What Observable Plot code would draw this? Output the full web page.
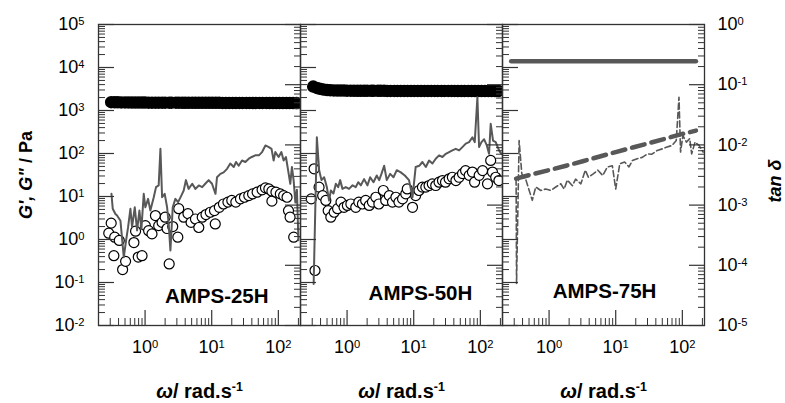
<!DOCTYPE html>
<html><head><meta charset="utf-8">
<script src="https://cdn.jsdelivr.net/npm/d3@7"></script>
<script src="https://cdn.jsdelivr.net/npm/@observablehq/plot@0.6"></script>
<style>
body{margin:0;background:#fff;}
#chart{width:785px;height:403px;}
</style></head><body><div id="chart"></div>
<script>
const panelKeys = ["AMPS-25H", "AMPS-50H", "AMPS-75H"];

// G' (filled circles) for AMPS-25H and AMPS-50H, rad/s and Pa
const omegaGp = [0.31,0.35,0.39,0.44,0.5,0.56,0.63,0.71,0.8,0.9,1.0,1.13,1.27,1.43,1.6,1.8,2.0,2.3,2.5,2.9,3.2,3.6,4.0,4.5,5.1,5.7,6.4,7.2,8.1,9.1,10.2,11.5,12.9,14.5,16.3,18.3,20.6,23,26,29,33,37,41,46,52,58,66,74,83,93,104,117,132,148,166,186];
const Gp25 = [1560,1550,1550,1540,1540,1540,1530,1530,1530,1530,1530,1520,1520,1520,1520,1520,1520,1520,1520,1520,1520,1510,1510,1510,1510,1510,1510,1510,1510,1510,1510,1510,1510,1500,1500,1500,1500,1500,1500,1500,1500,1500,1500,1500,1500,1500,1500,1490,1490,1490,1490,1490,1490,1490,1490,1490];
const Gp50 = [3600,3350,3200,3080,3000,2960,2930,2910,2900,2900,2890,2890,2880,2880,2880,2880,2870,2870,2870,2870,2870,2870,2860,2860,2860,2860,2860,2860,2860,2860,2850,2850,2850,2850,2850,2850,2850,2850,2850,2850,2850,2850,2850,2840,2840,2840,2840,2840,2840,2840,2840,2840,2840,2840,2840,2840];

// G'' (open circles)
const w25_Gpp = [0.31,0.285,0.35,0.34,0.41,0.46,0.51,0.68,0.72,0.79,0.9,1.01,1.13,1.27,1.43,1.6,1.8,2.0,2.14,2.3,2.6,3.1,3.2,3.8,4.4,4.9,5.7,6.4,7.2,8.2,9.5,11.3,11,13,15,17.5,20,23,27,31,36,41,48,57,64,72,80,80,92,107,120,135,142,150,170];
const Gpp25 = [2.4,1.4,1.13,0.42,0.95,0.2,0.31,0.85,1.56,0.39,0.42,2.1,1.6,1.35,3.6,2.1,2.5,3.3,1.8,0.27,2.0,1.13,5.2,3.3,4.0,2.5,3.0,1.9,3.3,3.8,4.3,2.3,4.7,5.6,6.7,7.4,8.1,7.4,8.8,9.6,10.5,11.5,12.6,14.3,15.9,15,13.3,7.8,12.6,11.5,10.5,9.6,4.7,3.3,1.13];
const w50_Gpp = [0.32,0.33,0.29,0.38,0.43,0.48,0.52,0.57,0.64,0.72,0.81,0.9,1.01,1.14,1.35,1.5,1.7,1.9,2.15,2.4,2.7,3.0,3.5,3.8,4.3,4.8,5.4,6.0,6.8,7.6,8.0,9.6,10.7,12,13.5,15.2,17,19,21.4,24,27,30,34,38,43,48,54,60,68,76,82,96,108,128,143,152,170,190];
const Gpp50 = [44,0.19,8.8,16.5,10.5,8.1,4.7,3.3,4.3,5.2,7.4,5.6,6.2,6.7,5.6,7.4,6.7,8.1,6.2,7.4,9.6,6.7,13.8,8.1,10.5,7.4,9.6,7.4,8.8,11.5,15,5.6,10.5,13.8,16.5,16.5,18,19.7,18,21.5,23.5,21.5,25.8,28,23.5,28,34,40,31,37,21.5,31,40,19.7,69,37,28,23.5];

// tan δ (grey line, right axis)
const w25_tan = [0.313,0.327,0.359,0.38,0.427,0.479,0.519,0.556,0.603,0.638,0.70,0.759,0.822,0.881,0.955,1.01,1.11,1.2,1.35,1.46,1.6,1.7,1.8,1.97,2.14,2.26,2.4,2.6,2.85,3.13,3.5,3.8,4.1,4.5,5.1,5.7,6.4,7.2,8.0,9.0,10.1,11.4,12,13.5,15.1,17,19,21.4,23.2,25.4,28.5,32,36,40,45,51,57,64,72,79,85,90,101,111,120,130,140,151,160,170,180,190,200];
const tan25 = [0.00154,0.00087,0.00071,0.00067,0.00055,0.000136,0.00026,0.00043,0.00087,0.00043,0.00092,0.00038,0.00081,0.0004,0.00154,0.00092,0.00127,0.00081,0.00135,0.00199,0.00212,0.0086,0.00135,0.00154,0.00092,0.00049,0.000176,0.00092,0.00127,0.00112,0.00144,0.00175,0.0026,0.00186,0.00226,0.00186,0.00212,0.00199,0.00226,0.0026,0.00226,0.00154,0.0029,0.0033,0.0035,0.004,0.0049,0.0043,0.0052,0.0045,0.0055,0.0052,0.0059,0.0063,0.0067,0.0067,0.0076,0.0098,0.0092,0.0086,0.0055,0.0076,0.0063,0.0076,0.0055,0.0063,0.0038,0.00226,0.0043,0.0025,0.0011,0.0018,0.00026];
const w50_tan = [0.315,0.352,0.381,0.413,0.453,0.497,0.538,0.570,0.625,0.678,0.735,0.787,0.853,0.957,1.07,1.21,1.35,1.47,1.61,1.80,2.02,2.22,2.49,2.79,3.03,3.28,3.6,3.94,4.43,4.97,5.57,6.4,7.35,8.5,9.6,10.7,12.1,13.5,15.2,17,19.1,21.4,24,27,30.3,34,38,42.8,48,53.8,60.4,67.8,76,82.4,90.3,95.7,104,114,125,135,143,155,170,191,207];
const tan50 = [0.000049,0.0134,0.0038,0.0026,0.0029,0.00199,0.00119,0.00175,0.00156,0.00226,0.00199,0.0026,0.00186,0.00199,0.00186,0.00213,0.00199,0.0024,0.00213,0.0027,0.00213,0.0029,0.0024,0.0031,0.0026,0.0033,0.0045,0.0026,0.0033,0.0029,0.0038,0.0035,0.0031,0.0026,0.00135,0.0043,0.0045,0.0052,0.0043,0.0055,0.0049,0.0059,0.0067,0.0063,0.0071,0.0076,0.0081,0.0086,0.0081,0.0092,0.0105,0.0111,0.0134,0.0111,0.062,0.0092,0.0111,0.0124,0.0098,0.0071,0.0224,0.0118,0.0111,0.0081,0.0071];

// AMPS-75H: G' (thick solid), G'' (thick dashed), tan δ (thin dashed)
const w75_Gp = [0.27,0.5,1,3,10,30,100,160];
const Gp75 = [14000,14000,14000,14000,14000,14000,14000,14000];
const w75_Gpp = [0.32,0.56,1.0,1.8,3.2,5.6,10,18,32,56,100,160];
const Gpp75 = [26,33,41,52,66,84,108,138,175,222,285,340];
const w75_tan = [0.32,0.325,0.355,0.39,0.45,0.56,0.63,0.75,0.89,1.06,1.26,1.5,1.68,1.88,2.24,2.5,3.0,3.5,3.9,4.6,5.4,6.4,7.5,8.9,10,11.5,13.6,15.8,17.8,21,25,30,35,42,50,59,70,81,89,94,102,115,129,138,155,178,205];
const tan75 = [0.0027,0.00005,0.0118,0.0033,0.0026,0.0012,0.002,0.00175,0.00185,0.00175,0.002,0.00226,0.00185,0.0026,0.0021,0.0027,0.00226,0.0038,0.0029,0.0033,0.0038,0.0031,0.0043,0.0045,0.00185,0.00485,0.0052,0.0043,0.0055,0.0059,0.0062,0.0071,0.007,0.0081,0.0086,0.0092,0.0098,0.0118,0.062,0.0076,0.0143,0.0111,0.0127,0.0071,0.0111,0.0098,0.0076];

// tick values
const xTickValues = [1, 10, 100];
const gTickValues = [1e-2, 1e-1, 1e0, 1e1, 1e2, 1e3, 1e4, 1e5];
const tanTickValues = [1e-5, 1e-4, 1e-3, 1e-2, 1e-1, 1e0];

// helpers
const rows = (p, ws, vs) => ws.map((w, i) => ({p, w, v: vs[i]}));
// tan δ axis (1e-5..1e0) shares the frame with the G axis (1e-2..1e5)
const tanToG = t => Math.pow(10, -2 + (Math.log10(t) + 5) * 7 / 5);
const minorsOf = majors => majors.slice(0, -1).flatMap(m => [2,3,4,5,6,7,8,9].map(k => k * m));
const xMinor = minorsOf([0.1, 1, 10, 100, 1000]).filter(v => v > 0.25 && v < 210);
const gMinor = minorsOf(gTickValues);
const tanMajorG = tanTickValues.map(tanToG);
const tanMinorG = minorsOf(tanTickValues).map(tanToG);
const sciFmt = v => "10^" + Math.round(Math.log10(v));
const tanFmt = t => "10^" + Math.round(Math.log10(t));

const gpData = [...rows(panelKeys[0], omegaGp, Gp25), ...rows(panelKeys[1], omegaGp, Gp50)];
const gppData = [...rows(panelKeys[0], w25_Gpp, Gpp25), ...rows(panelKeys[1], w50_Gpp, Gpp50)];
const tanData = [...rows(panelKeys[0], w25_tan, tan25), ...rows(panelKeys[1], w50_tan, tan50)];
const gp75 = rows(panelKeys[2], w75_Gp, Gp75);
const gpp75 = rows(panelKeys[2], w75_Gpp, Gpp75);
const tanD75 = rows(panelKeys[2], w75_tan, tan75);

const axisColor = "#333";
const grey = "#585858";

const chart = Plot.plot({
  width: 785, height: 403,
  marginLeft: 97, marginRight: 81, marginTop: 24, marginBottom: 78,
  style: {fontFamily: "'Liberation Sans', Arial, sans-serif", fontSize: "18px", color: "#000", background: "#fff", overflow: "visible"},
  fx: {domain: panelKeys, padding: 0, axis: null, label: null},
  x: {type: "log", domain: [0.2, 215]},
  y: {type: "log", domain: [1e-2, 1e5]},
  marks: [
    // data
    Plot.dot(gpData, {fx: "p", x: "w", y: "v", r: 5.5, fill: "#000", stroke: "#000", clip: true}),
    Plot.dot(gppData, {fx: "p", x: "w", y: "v", r: 5, fill: "#fff", stroke: "#000", strokeWidth: 1.2, clip: true}),
    Plot.line(tanData, {fx: "p", x: "w", y: d => tanToG(d.v), stroke: grey, strokeWidth: 2, clip: true}),
    Plot.line(gp75, {fx: "p", x: "w", y: "v", stroke: grey, strokeWidth: 4.5, strokeLinecap: "round"}),
    Plot.line(gpp75, {fx: "p", x: "w", y: "v", stroke: grey, strokeWidth: 4.5, strokeDasharray: "13,7"}),
    Plot.line(tanD75, {fx: "p", x: "w", y: d => tanToG(d.v), stroke: grey, strokeWidth: 1.6, strokeDasharray: "6,3", clip: true}),
    // frame and inward ticks
    Plot.frame({stroke: axisColor, strokeWidth: 1.3}),
    Plot.axisX(xTickValues, {tickSize: -15, fill: "none", stroke: axisColor, strokeWidth: 1.2, label: null}),
    Plot.axisX(xMinor, {tickSize: -7, fill: "none", stroke: axisColor, strokeWidth: 1, label: null}),
    Plot.axisY(gTickValues, {anchor: "left", tickSize: -16, facetAnchor: null, fill: "none", stroke: axisColor, strokeWidth: 1.2, label: null}),
    Plot.axisY(gMinor, {anchor: "left", tickSize: -7, facetAnchor: null, fill: "none", stroke: axisColor, strokeWidth: 1, label: null}),
    Plot.axisY(tanMajorG, {anchor: "right", tickSize: -16, facetAnchor: null, fill: "none", stroke: axisColor, strokeWidth: 1.2, label: null}),
    Plot.axisY(tanMinorG, {anchor: "right", tickSize: -7, facetAnchor: null, fill: "none", stroke: axisColor, strokeWidth: 1, label: null}),
    // tick labels
    Plot.axisX(xTickValues, {tickSize: 0, tickPadding: 15, tickFormat: sciFmt, label: null, fontSize: 18}),
    Plot.axisY(gTickValues, {anchor: "left", tickSize: 0, tickPadding: 14, tickFormat: sciFmt, label: null, fontSize: 18}),
    Plot.text(tanTickValues, {fx: () => panelKeys[2], y: t => tanToG(t), frameAnchor: "right", dx: 13, textAnchor: "start", text: tanFmt, fontSize: 18}),
    // panel names
    Plot.text(panelKeys, {fx: d => d, x: [11.9, 12.6, 6.8], y: [0.048, 0.057, 0.063], text: d => d, fontWeight: "bold", fontSize: 20.5}),
    // axis titles
    Plot.text(panelKeys, {fx: d => d, frameAnchor: "bottom", dy: 72, lineAnchor: "bottom", text: () => "ω/ rad.s^-1", fontWeight: "bold", fontSize: 20}),
    Plot.text(["G', G\" / Pa"], {fx: () => panelKeys[0], frameAnchor: "left", dx: -72, rotate: -90, textAnchor: "middle", text: d => d, fontWeight: "bold", fontSize: 18}),
    Plot.text(["tan δ"], {fx: () => panelKeys[2], frameAnchor: "right", dx: 71, dy: 6, rotate: -90, textAnchor: "middle", text: d => d, fontWeight: "bold", fontStyle: "italic", fontSize: 18})
  ]
});

// superscripts / italics as real SVG text
const NS = "http://www.w3.org/2000/svg";
function span(parent, txt, attrs) {
  const s = document.createElementNS(NS, "tspan");
  for (const k in attrs) s.setAttribute(k, attrs[k]);
  s.textContent = txt;
  parent.appendChild(s);
}
d3.select(chart).selectAll("text").each(function () {
  if (this.querySelector("tspan")) return;
  const t = this.textContent;
  if (t.startsWith("ω/")) {
    this.textContent = "";
    span(this, "ω", {"font-style": "italic"});
    span(this, "/ rad.s", {});
    span(this, "-1", {"dy": "-0.55em", "font-size": "0.62em"});
  } else if (t.startsWith("G'")) {
    this.textContent = "";
    span(this, "G', G\"", {"font-style": "italic"});
    span(this, " / Pa", {});
  } else if (t.includes("^")) {
    const [b, e] = t.split("^");
    this.textContent = b;
    span(this, e, {"dy": "-0.45em", "font-size": "0.62em"});
  }
});

document.getElementById("chart").appendChild(chart);
</script>
</body></html>
